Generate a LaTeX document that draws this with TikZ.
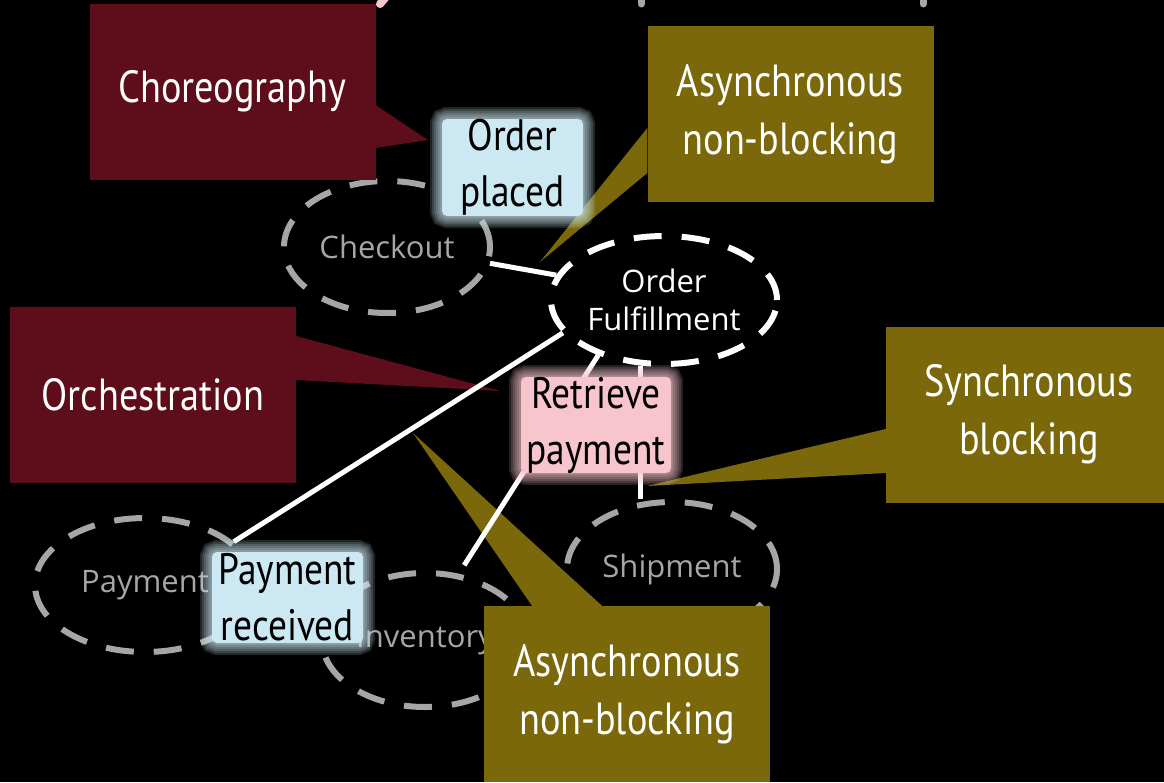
\documentclass[tikz,border=0pt]{standalone}
\usepackage{fontspec}
\usepackage{tikz}
\usetikzlibrary{shapes.geometric}
\newfontfamily\handfont[FakeStretch=0.85]{PT Sans}
\newfontfamily\svcfont{Open Sans}
\definecolor{calloutred}{HTML}{5E0E1A}
\definecolor{calloutolive}{HTML}{7B680A}
\definecolor{stickyblue}{HTML}{CBE8F3}
\definecolor{stickypink}{HTML}{F8C5CE}
\definecolor{svcgray}{HTML}{A6A6A6}
\tikzset{
    service/.style={
            ellipse, draw=#1, text=#1, line width=6pt,
            dash pattern=on 28pt off 20pt,
            inner sep=0pt, align=center,
            font=\svcfont\fontsize{31}{38}\selectfont
        },
    bubble/.style={
            fill=#1, text=white, inner sep=0pt, align=center,
            minimum width=286pt, minimum height=176pt,
            font=\handfont\fontsize{45}{58}\selectfont
        },
    sticky/.style={
            fill=#1, text=black, inner sep=0pt, align=center,
            rounded corners=5pt,
            preaction={draw=#1, draw opacity=.16, line width=24pt},
            preaction={draw=#1, draw opacity=.16, line width=20pt},
            preaction={draw=#1, draw opacity=.16, line width=16pt},
            preaction={draw=#1, draw opacity=.16, line width=12pt},
            preaction={draw=#1, draw opacity=.16, line width=8pt},
            preaction={draw=#1, draw opacity=.2, line width=4pt},
            font=\handfont\fontsize{44}{56}\selectfont
        },
    link/.style={white, line width=5pt}
}
\begin{document}
\begin{tikzpicture}[x=1pt, y=-1pt]
        \fill[black] (0,0) rectangle (1164,782);
        \useasboundingbox (0,0) rectangle (1164,782);
        \clip (0,0) rectangle (1164,782);

        \draw[svcgray, line width=7pt, line cap=round] (641,-20) -- (641,4);
        \draw[svcgray, line width=7pt, line cap=round] (923,-20) -- (923,4);
        \draw[stickypink, line width=8pt, line cap=round] (392,-10) -- (380,4);

        \node[service=svcgray, minimum width=206pt, minimum height=132pt] (co) at (387,247) {Checkout};
        \node[service=white, minimum width=226pt, minimum height=128pt] (of) at (664,300) {Order\\Fulfillment};
        \node[service=svcgray, minimum width=220pt, minimum height=134pt] (pay) at (145,585) {Payment};
        \node[service=svcgray, minimum width=206pt, minimum height=134pt] (inv) at (425,640) {Inventory};
        \node[service=svcgray, minimum width=210pt, minimum height=134pt] (ship) at (672,569) {Shipment};

        \node[bubble=calloutred] (chor) at (232.5,91.5) {Choreography};
        \coordinate (chor-tip) at (428,140);
        \fill[calloutred] (chor.east |- 0,105) -- (chor-tip) -- (chor.east |- 0,148) -- cycle;

        \node[bubble=calloutolive] (async1) at (790.5,114) {Asynchronous\\non-blocking};
        \coordinate (async1-tip) at (540,262);
        \fill[calloutolive] (async1.west |- 0,128) -- (async1-tip) -- (async1.west |- 0,173) -- cycle;

        \node[bubble=calloutred] (orch) at (153,394.5) {Orchestration};
        \coordinate (orch-tip) at (500,391);
        \fill[calloutred] (orch.east |- 0,336) -- (orch-tip) -- (orch.east |- 0,380) -- cycle;

        \node[bubble=calloutolive] (sync) at (1029,414.5) {Synchronous\\blocking};
        \coordinate (sync-tip) at (647,486);
        \fill[calloutolive] (sync.west |- 0,429) -- (sync-tip) -- (sync.west |- 0,473) -- cycle;

        \node[bubble=calloutolive] (async2) at (627,694) {Asynchronous\\non-blocking};
        \coordinate (async2-tip) at (413,433);
        \fill[calloutolive] (async2.north -| 532,0) -- (async2-tip) -- (async2.north -| 602,0) -- cycle;

        \draw[link] (co.-9) -- (of.167);
        \draw[link] (of.198) -- (pay.26);
        \draw[link, shorten >=10pt] (of.220) -- (inv.63);
        \draw[link] (of.250) -- (of.250 |- ship.north);

        \node[sticky=stickyblue, minimum width=141pt, minimum height=97pt] (placed) at (512.5,167.5) {Order\\placed};
        \node[sticky=stickypink, minimum width=150pt, minimum height=92pt] (retrieve) at (596,425) {Retrieve\\payment};
        \node[sticky=stickyblue, minimum width=151pt, minimum height=91pt] (received) at (287.5,597.5) {Payment\\received};

    \end{tikzpicture}
\end{document}
